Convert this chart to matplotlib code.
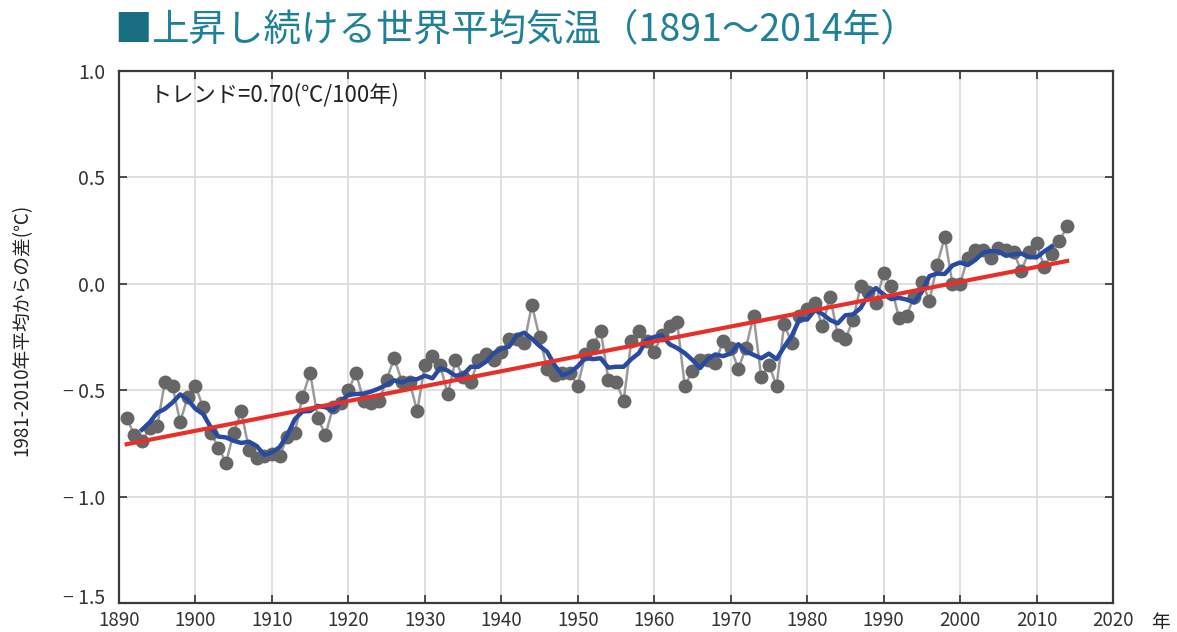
import numpy as np
import matplotlib
matplotlib.use("Agg")
import matplotlib.pyplot as plt
import matplotlib.transforms as mtransforms

plt.rcParams['font.family'] = ['Noto Sans CJK JP', 'DejaVu Sans']

# Annual global mean surface temperature anomaly (deg C, vs 1981-2010 mean)
years = list(range(1891, 2015))
anomaly = [
    -0.63, -0.71, -0.74, -0.68, -0.67, -0.46, -0.48, -0.65, -0.53, -0.48,  # 1891-1900
    -0.58, -0.70, -0.77, -0.84, -0.70, -0.60, -0.78, -0.82, -0.81, -0.80,  # 1901-1910
    -0.81, -0.72, -0.70, -0.53, -0.42, -0.63, -0.71, -0.58, -0.56, -0.50,  # 1911-1920
    -0.42, -0.55, -0.56, -0.55, -0.45, -0.35, -0.46, -0.46, -0.60, -0.38,  # 1921-1930
    -0.34, -0.38, -0.52, -0.36, -0.44, -0.46, -0.36, -0.33, -0.36, -0.32,  # 1931-1940
    -0.26, -0.26, -0.28, -0.10, -0.25, -0.40, -0.43, -0.42, -0.42, -0.48,  # 1941-1950
    -0.33, -0.29, -0.22, -0.45, -0.46, -0.55, -0.27, -0.22, -0.27, -0.32,  # 1951-1960
    -0.24, -0.20, -0.18, -0.48, -0.41, -0.36, -0.36, -0.37, -0.27, -0.30,  # 1961-1970
    -0.40, -0.30, -0.15, -0.44, -0.38, -0.48, -0.19, -0.28, -0.15, -0.12,  # 1971-1980
    -0.09, -0.20, -0.06, -0.24, -0.26, -0.17, -0.01, -0.04, -0.09, 0.05,   # 1981-1990
    -0.01, -0.16, -0.15, -0.06, 0.01, -0.08, 0.09, 0.22, 0.00, 0.00,       # 1991-2000
    0.12, 0.16, 0.16, 0.12, 0.17, 0.16, 0.15, 0.06, 0.15, 0.19,            # 2001-2010
    0.08, 0.14, 0.20, 0.27,                                                # 2011-2014
]
trend_per_century = 0.70  # stated trend (deg C / 100 years)

xticks = list(range(1890, 2021, 10))
yticks = [1.0, 0.5, 0.0, -0.5, -1.0, -1.5]
ytick_labels = ["1.0", "0.5", "0.0", "\u2212 0.5", "\u2212 1.0", "\u2212 1.5"]

title_mark = "\u25a0"
title = "上昇し続ける世界平均気温（1891～2014年）"
ylabel = "1981-2010年平均からの差(℃)"
trend_label = "トレンド=0.70(℃/100年)"
year_unit = "年"

yr = np.array(years, dtype=float)
val = np.array(anomaly)

# 5-year centred running mean
run5 = np.convolve(val, np.ones(5) / 5, mode="valid")
run5_years = yr[2:-2]

# Linear trend with the stated slope, passing through the data centroid
slope = trend_per_century / 100.0
trend = val.mean() + slope * (yr - yr.mean())

fig = plt.figure(figsize=(11.77, 6.32), dpi=100)
ax = fig.add_axes([0.1011, 0.0459, 0.9456 - 0.1011, 0.8877 - 0.0459])

ax.plot(yr, val, color="#9a9a9a", lw=1.8, zorder=2)
ax.plot(yr, val, linestyle="none", marker="o", ms=9,
        mfc="#666666", mec="#666666", zorder=3)
ax.plot(run5_years, run5, color="#2a4aa0", lw=3.2, zorder=4)
ax.plot(yr, trend, color="#e8302a", lw=3.0, zorder=5)

ax.set_xlim(1890, 2020)
ax.set_ylim(-1.5, 1.0)
ax.set_xticks(xticks)
ax.set_xticklabels([str(t) for t in xticks], fontsize=13.5)
ax.set_yticks(yticks)
ax.set_yticklabels(ytick_labels, fontsize=14)
ax.tick_params(axis="x", pad=5)
ax.tick_params(axis="y", pad=10)
ax.tick_params(direction="in", length=6, width=1.2, top=True, right=True,
               colors="#333333")
ax.grid(True, color="#dcdcdc", lw=1.3, zorder=0)
for s in ax.spines.values():
    s.set_color("#3a3a3a")
    s.set_linewidth(1.6)

# lift the bottom y label slightly so it clears the first year label
bottom_lbl = ax.get_yticklabels()[-1]
bottom_lbl.set_transform(bottom_lbl.get_transform() +
                         mtransforms.ScaledTranslation(0, 5 / 72, fig.dpi_scale_trans))

ax.text(0.031, 0.955, trend_label, transform=ax.transAxes, fontsize=16,
        ha="left", va="center", color="#222222")
ax.text(1.048, -0.016, year_unit, transform=ax.transAxes, fontsize=13.5,
        ha="center", va="top", color="#222222")

fig.text(0.019, 0.478, ylabel, rotation=90, fontsize=13.5, ha="center",
         va="center", color="#222222")
fig.text(0.097, 0.952, title_mark, fontsize=27, ha="left", va="center",
         color="#1a6e82")
fig.text(0.128, 0.952, title, fontsize=27, ha="left", va="center",
         color="#1f8098")

fig.savefig("out.png", dpi=100)
